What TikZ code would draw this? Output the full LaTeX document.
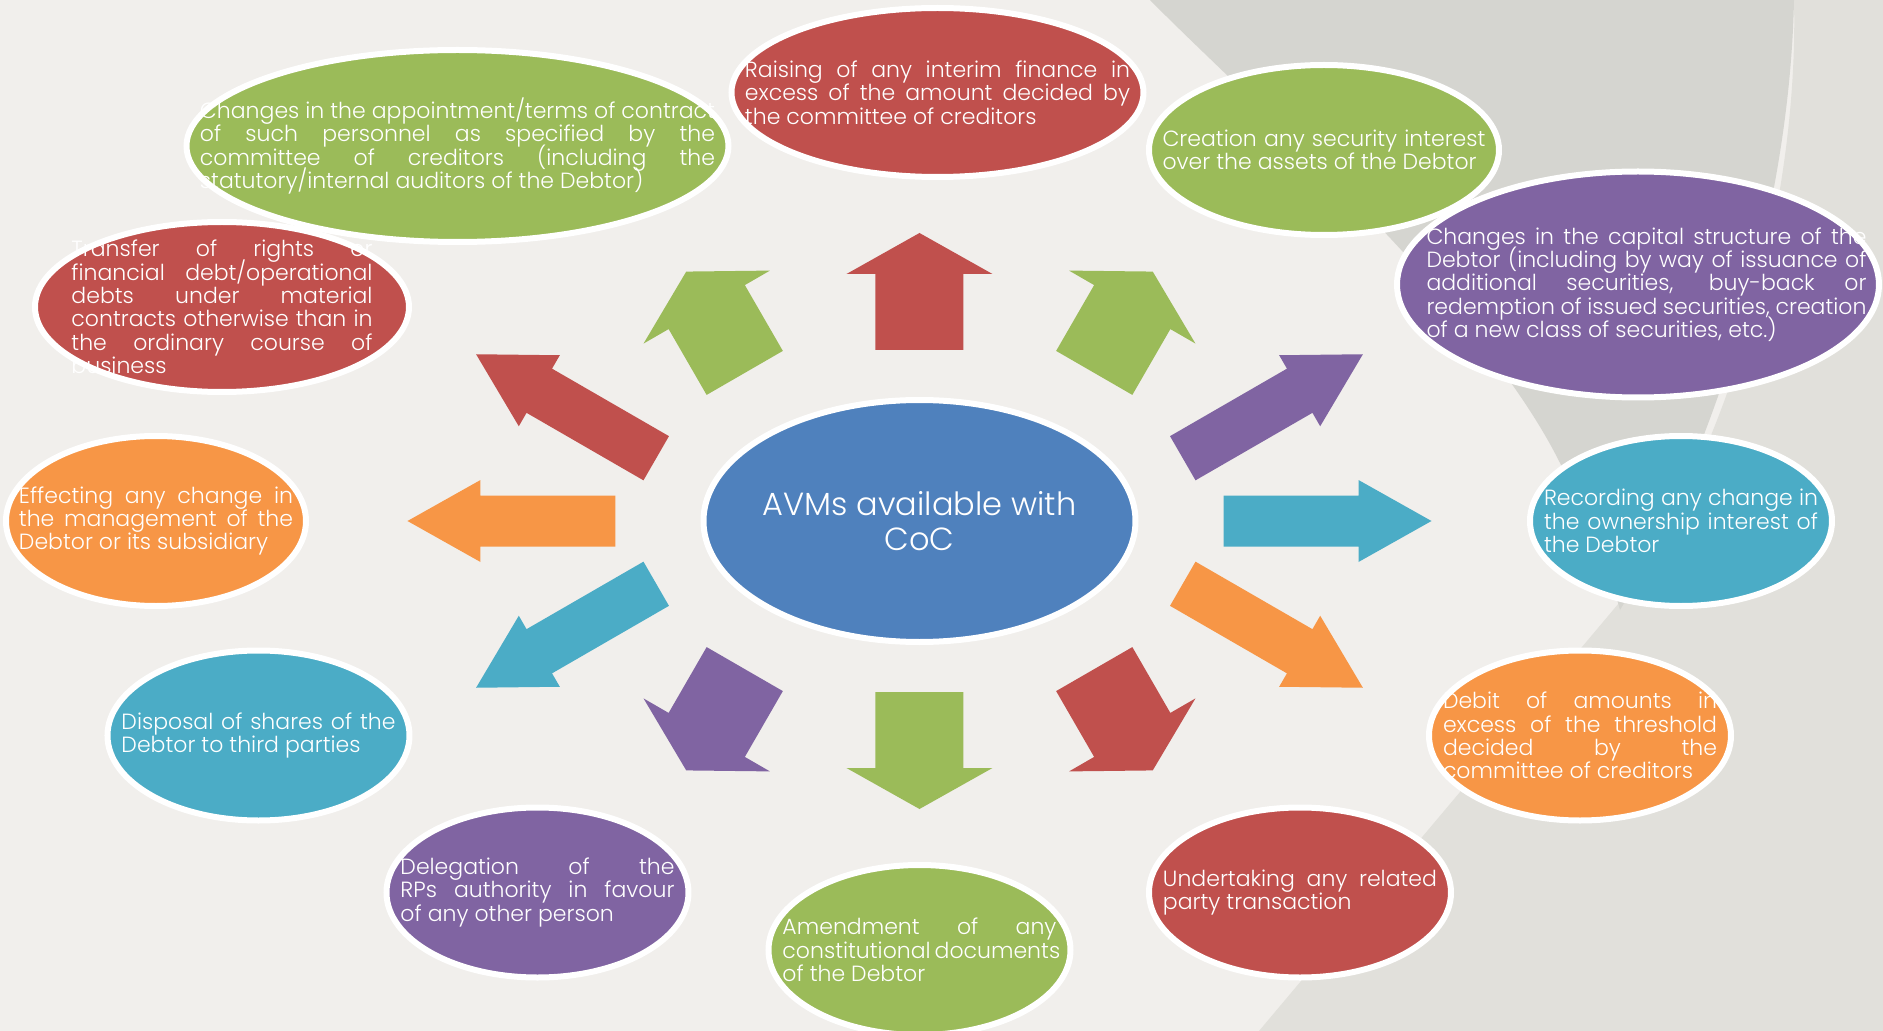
\documentclass[tikz,border=0pt]{standalone}
\usepackage{fontspec}
\setmainfont{Poppins}[UprightFont=* Light]
\usetikzlibrary{shapes.geometric}
\definecolor{cocbg}{HTML}{F1EFEC}
\definecolor{cocdark}{HTML}{D5D5D0}
\definecolor{coclight}{HTML}{E1E0DB}
\definecolor{cocred}{HTML}{C0504D}
\definecolor{cocgreen}{HTML}{9BBB59}
\definecolor{cocpurple}{HTML}{8064A2}
\definecolor{cocteal}{HTML}{4BACC6}
\definecolor{cocorange}{HTML}{F79646}
\definecolor{cocblue}{HTML}{4F81BD}

\tikzset{
  pics/longarrow/.style={code={\fill[#1] (-104,-25.5) -- (31,-25.5) -- (31,-41) -- (104,0) -- (31,41) -- (31,25.5) -- (-104,25.5) -- cycle;}},
  pics/shortarrow/.style={code={\fill[#1] (-58.5,-44) -- (17.5,-44) -- (17.5,-73) -- (58.5,0) -- (17.5,73) -- (17.5,44) -- (-58.5,44) -- cycle;}}
}

\begin{document}
\begin{tikzpicture}[x=1pt,y=1pt]
	  \tikzstyle{bubble}=[ellipse,draw=white,line width=6pt,inner sep=0pt,minimum width=302pt,minimum height=170pt]
	  \tikzstyle{bubbletext}=[text=white,align=justify,inner sep=0pt,text width=274pt,font=\fontsize{22}{23.3}\selectfont,
	    execute at begin node={\lineskiplimit=-100pt\hyphenpenalty=10000\exhyphenpenalty=10000\relax}]

	  % background
	  \useasboundingbox (-919.5,-510) rectangle (963.5,521);
	  \fill[cocbg] (-919.5,-510) rectangle (963.5,521);
	  \fill[coclight] (874.5,521) -- (963.5,521) -- (963.5,-510) -- (339.5,-510) -- (699.5,-82)
	    .. controls (800,50) and (880,300) .. cycle;
	  \fill[cocdark] (230.5,521) .. controls (330,420) and (560,220) .. (640.5,58)
	    .. controls (670,0) and (690,-50) .. (700.5,-89)
	    .. controls (790,60) and (870,300) .. (874.5,521) -- cycle;

	  % arrows
	  \foreach \ang/\col in {0/cocteal,30/cocpurple,150/cocred,180/cocorange,210/cocteal,330/cocorange}
	    \pic[rotate=\ang] (arrow\ang) at ({408*cos(\ang)},{229.5*sin(\ang)}) {longarrow=\col};
	  \foreach \ang/\col in {60/cocgreen,90/cocred,120/cocgreen,240/cocpurple,270/cocgreen,300/cocred}
	    \pic[rotate=\ang] (arrow\ang) at ({408*cos(\ang)},{229.5*sin(\ang)}) {shortarrow=\col};

	  % centre
	  \node[bubble,fill=cocblue,minimum width=432pt,minimum height=242pt] (avm) at (0,0) {};
	  \node[text=white,align=center,font=\fontsize{32}{35}\selectfont] (avmtext) at (avm) {AVMs available with\\CoC};

	  % bubbles
	  \node[bubble,fill=cocred,minimum width=412pt,minimum height=169pt] (interim) at (18,428.5) {};
	  \node[bubble,fill=cocgreen,minimum width=350pt] (security) at (404.5,371) {};
	  \node[bubble,fill=cocpurple,minimum width=482pt,minimum height=226pt] (capital) at (718.5,236.5) {};
	  \node[bubble,fill=cocteal] (ownership) at (761.5,0) {};
	  \node[bubble,fill=cocorange] (debit) at (660.5,-214.5) {};
	  \node[bubble,fill=cocred] (related) at (380.5,-371.5) {};
	  \node[bubble,fill=cocgreen] (amend) at (0,-429) {};
	  \node[bubble,fill=cocpurple] (delegate) at (-382,-371.5) {};
	  \node[bubble,fill=cocteal] (disposal) at (-661,-214.5) {};
	  \node[bubble,fill=cocorange,minimum width=300pt] (management) at (-763.5,0) {};
	  \node[bubble,fill=cocred,minimum width=374pt] (transfer) at (-697.5,214) {};
	  \node[bubble,fill=cocgreen,minimum width=542pt,minimum height=192pt] (personnel) at (-462,375) {};

	  \node[bubbletext,text width=385pt] (interimtext) at (interim) {Raising of any interim finance in\linebreak excess of the amount decided by\linebreak the committee of creditors};
	  \node[bubbletext,text width=323pt] (securitytext) at (security) {Creation any security interest\linebreak over the assets of the Debtor};
	  \node[bubbletext,text width=440pt,xshift=8.5pt] (capitaltext) at (capital) {Changes in the capital structure of the\linebreak Debtor (including by way of issuance of\linebreak additional securities, buy-back or\linebreak redemption of issued securities, creation\linebreak of a new class of securities, etc.)};
	  \node[bubbletext] (ownershiptext) at (ownership) {Recording any change in\linebreak the ownership interest of\linebreak the Debtor};
	  \node[bubbletext] (debittext) at (debit) {Debit of amounts in\linebreak excess of the threshold\linebreak decided by the\linebreak committee of creditors};
	  \node[bubbletext] (relatedtext) at (related) {Undertaking any related\linebreak party transaction};
	  \node[bubbletext] (amendtext) at (amend) {Amendment of any\linebreak constitutional~documents\linebreak of the Debtor};
	  \node[bubbletext] (delegatetext) at (delegate) {Delegation of the\linebreak RPs authority in favour\linebreak of any other person};
	  \node[bubbletext] (disposaltext) at (disposal) {Disposal of shares of the\linebreak Debtor to third parties};
	  \node[bubbletext] (managementtext) at (management) {Effecting any change in\linebreak the management of the\linebreak Debtor or its subsidiary};
	  \node[bubbletext,text width=301pt] (transfertext) at (transfer) {Transfer of rights or\linebreak financial debt/operational\linebreak debts under material\linebreak contracts otherwise than in\linebreak the ordinary course of\linebreak business};
	  \node[bubbletext,text width=515pt] (personneltext) at (personnel) {Changes in the appointment/terms of contract\linebreak of such personnel as specified by the\linebreak committee of creditors (including the\linebreak statutory/internal auditors of the Debtor)};
	\end{tikzpicture}
\end{document}
